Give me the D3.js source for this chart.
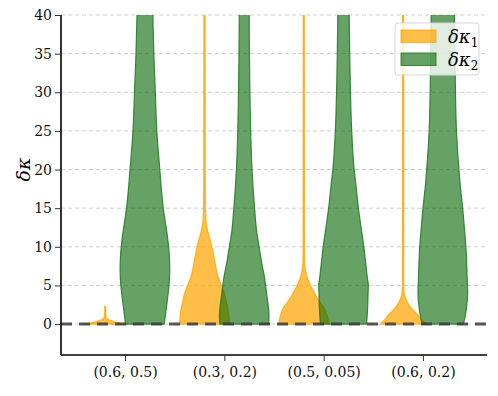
<!DOCTYPE html>
<html>
<head>
<meta charset="utf-8">
<script src="https://cdn.jsdelivr.net/npm/d3@7"></script>
<style>
  body { margin: 0; background: #fff; }
  svg text { font-family: "DejaVu Serif", serif !important; }
</style>
</head>
<body>
<div id="chart"></div>
<script>
var categories = ['(0.6, 0.5)', '(0.3, 0.2)', '(0.5, 0.05)', '(0.6, 0.2)']
var yTicks = [0, 5, 10, 15, 20, 25, 30, 35, 40]

// violin outlines: [value, relative half width]
var kappa1 = [
  [[0, 0.9], [0.2, 0.5], [0.5, 0.2], [0.7, 0.08], [0.9, 0.03], [1.5, 0.02], [2.3, 0.02]],
  [[0, 1.0], [1, 0.98], [2, 0.94], [3, 0.87], [4, 0.8], [5, 0.68], [6, 0.56], [8, 0.42], [10, 0.3], [11, 0.22], [12, 0.13], [13, 0.07], [14, 0.05], [16, 0.035], [20, 0.03], [30, 0.025], [45, 0.02]],
  [[0, 1.0], [1, 0.95], [1.5, 0.9], [2.2, 0.8], [3, 0.62], [3.5, 0.52], [4.2, 0.4], [4.8, 0.3], [5.5, 0.2], [6.1, 0.13], [6.8, 0.08], [7.4, 0.05], [8.5, 0.03], [12, 0.025], [45, 0.02]],
  [[0, 0.93], [0.3, 0.82], [0.6, 0.72], [1, 0.64], [1.4, 0.52], [1.8, 0.4], [2.4, 0.25], [3.1, 0.13], [3.6, 0.07], [4, 0.04], [5, 0.025], [45, 0.02]]
]
var kappa2 = [
  [[0, 0.78], [1.5, 0.84], [3, 0.9], [5, 0.97], [7, 1.0], [9, 0.98], [11, 0.92], [15, 0.74], [20, 0.6], [25, 0.48], [30, 0.42], [35, 0.36], [40, 0.32], [45, 0.28]],
  [[0, 0.98], [1, 1.0], [2, 0.98], [4, 0.9], [6, 0.82], [8, 0.7], [10, 0.6], [12, 0.5], [15, 0.42], [18, 0.35], [21, 0.3], [25, 0.26], [30, 0.23], [35, 0.21], [40, 0.2], [45, 0.19]],
  [[0, 0.93], [2, 0.97], [4, 0.99], [5, 1.0], [6, 0.96], [8, 0.89], [10, 0.82], [12, 0.73], [15, 0.6], [18, 0.5], [20, 0.43], [25, 0.33], [30, 0.28], [35, 0.25], [40, 0.23], [45, 0.21]],
  [[0, 0.83], [1, 0.9], [2, 0.95], [4, 1.0], [6, 0.98], [8, 0.96], [10, 0.93], [12, 0.88], [15, 0.8], [18, 0.7], [20, 0.65], [25, 0.55], [30, 0.51], [35, 0.49], [40, 0.47], [45, 0.45]]
]

var series = [
  {label: '1', data: kappa1, offset: -0.2, fill: '#ffa500', fillOpacity: 0.72, stroke: '#ffa500', strokeOpacity: 0.8},
  {label: '2', data: kappa2, offset: 0.2, fill: '#006400', fillOpacity: 0.6, stroke: '#1f7a1f', strokeOpacity: 0.85}
]

var W = 498, H = 396
var margin = {top: 15, right: 11, bottom: 41, left: 61}
var width = W - margin.left - margin.right
var height = H - margin.top - margin.bottom

var x = d3.scaleLinear().domain([-0.645, 3.645]).range([0, width])
var y = d3.scaleLinear().domain([-4, 40]).range([height, 0])
var halfWidth = 0.25

var svg = d3.select('#chart').append('svg')
  .attr('width', W)
  .attr('height', H)
var g = svg.append('g')
  .attr('transform', 'translate(' + margin.left + ',' + margin.top + ')')

g.append('defs').append('clipPath').attr('id', 'plot')
  .append('rect').attr('width', width).attr('height', height)

// grid
g.append('g').selectAll('line')
  .data(yTicks)
  .enter().append('line')
  .attr('x1', 0).attr('x2', width)
  .attr('y1', function (d) { return y(d) }).attr('y2', function (d) { return y(d) })
  .attr('stroke', '#cfcfcf')
  .attr('stroke-width', 1)
  .attr('stroke-dasharray', '4,3')

var violins = g.append('g').attr('clip-path', 'url(#plot)')

series.forEach(function (s) {
  s.data.forEach(function (prof, i) {
    var cx = i + s.offset
    var area = d3.area()
      .curve(d3.curveMonotoneY)
      .y(function (d) { return y(d[0]) })
      .x0(function (d) { return x(cx - halfWidth * d[1]) })
      .x1(function (d) { return x(cx + halfWidth * d[1]) })
    violins.append('path')
      .datum(prof)
      .attr('d', area)
      .attr('fill', s.fill)
      .attr('fill-opacity', s.fillOpacity)
      .attr('stroke', s.stroke)
      .attr('stroke-opacity', s.strokeOpacity)
      .attr('stroke-width', 1.2)
  })
})

// zero line
g.append('line')
  .attr('x1', 0).attr('x2', width)
  .attr('y1', y(0)).attr('y2', y(0))
  .attr('stroke', '#3a3a3a')
  .attr('stroke-opacity', 0.85)
  .attr('stroke-width', 3)
  .attr('stroke-dasharray', '11,7')

// axes
var yAxis = g.append('g')
  .call(d3.axisLeft(y).tickValues(yTicks).tickSize(6).tickPadding(3))
var xAxis = g.append('g')
  .attr('transform', 'translate(0,' + height + ')')
  .call(d3.axisBottom(x).tickValues([0, 1, 2, 3]).tickFormat(function (d) { return categories[d] }).tickSize(6).tickPadding(6))

yAxis.attr('font-family', null).attr('font-size', null)
xAxis.attr('font-family', null).attr('font-size', null)
yAxis.select('.domain').attr('d', 'M0,0V' + height).attr('stroke-width', 1.6)
xAxis.select('.domain').attr('d', 'M0,0H' + width).attr('stroke-width', 1.6)
g.selectAll('.tick line').attr('stroke', '#333').attr('stroke-width', 1)
g.selectAll('.tick text').attr('font-size', 14).attr('fill', '#111')

// y label
svg.append('text')
  .attr('transform', 'translate(30,' + (margin.top + y(20)) + ') rotate(-90)')
  .attr('text-anchor', 'middle')
  .attr('font-size', 19)
  .attr('font-style', 'italic')
  .text('δκ')

// legend
var lg = svg.append('g').attr('transform', 'translate(395,23)')
lg.append('rect')
  .attr('width', 84).attr('height', 52)
  .attr('rx', 3)
  .attr('fill', '#fff').attr('fill-opacity', 0.8)
  .attr('stroke', '#d6d6d6').attr('stroke-width', 1)
series.forEach(function (s, i) {
  var row = lg.append('g').attr('transform', 'translate(6,' + (7 + i * 23) + ')')
  row.append('rect')
    .attr('width', 35).attr('height', 12.5)
    .attr('fill', s.fill).attr('fill-opacity', s.fillOpacity)
    .attr('stroke', s.stroke).attr('stroke-opacity', s.strokeOpacity)
  var t = row.append('text')
    .attr('x', 47).attr('y', 13)
    .attr('font-size', 18)
    .attr('font-style', 'italic')
    .text('δκ')
  t.append('tspan')
    .attr('font-size', 12)
    .attr('font-style', 'normal')
    .attr('dy', 4)
    .text(s.label)
})
</script>
</body>
</html>
